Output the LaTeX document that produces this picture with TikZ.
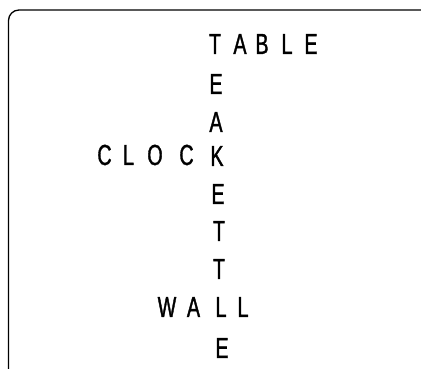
\documentclass[tikz,border=0pt]{standalone}
\usepackage{fontspec}
\setmainfont{Liberation Sans}[FakeStretch=0.68,FakeBold=1.2]
\begin{document}
\begin{tikzpicture}[x=1pt,y=-1pt,
  letter/.style={inner sep=0pt,outer sep=0pt,anchor=center,font=\fontsize{29}{29}\selectfont},
  frame/.style={line width=1.3pt,black}]
\useasboundingbox (0,0) rectangle (421,369);
% frame
\draw[frame] (421,10) -- (19,10) arc[start angle=270,end angle=180,radius=10.5] -- (8.5,369);
% TABLE
\node[letter] (t1) at (215,44) {T};
\node[letter] (a1) at (240,44) {A};
\node[letter] (b1) at (262,44) {B};
\node[letter] (l1) at (287,44) {L};
\node[letter] (e1) at (311,44) {E};
% vertical TEAKETTLE
\node[letter] (e2) at (216,84) {E};
\node[letter] (a2) at (216,122) {A};
\node[letter] (k1) at (217,156) {K};
\node[letter] (e3) at (218,194) {E};
\node[letter] (t2) at (219,231) {T};
\node[letter] (t3) at (219,269) {T};
\node[letter] (l2) at (221,307) {L};
\node[letter] (e4) at (222,348) {E};
% CLOCK
\node[letter] (c1) at (104.5,155) {C};
\node[letter] (l3) at (128.5,155) {L};
\node[letter] (o1) at (155,155) {O};
\node[letter] (c2) at (186.5,155) {C};
% WALL
\node[letter] (w1) at (167,307) {W};
\node[letter] (a3) at (193.5,307) {A};
\node[letter] (l4) at (243,307) {L};
\end{tikzpicture}
\end{document}
